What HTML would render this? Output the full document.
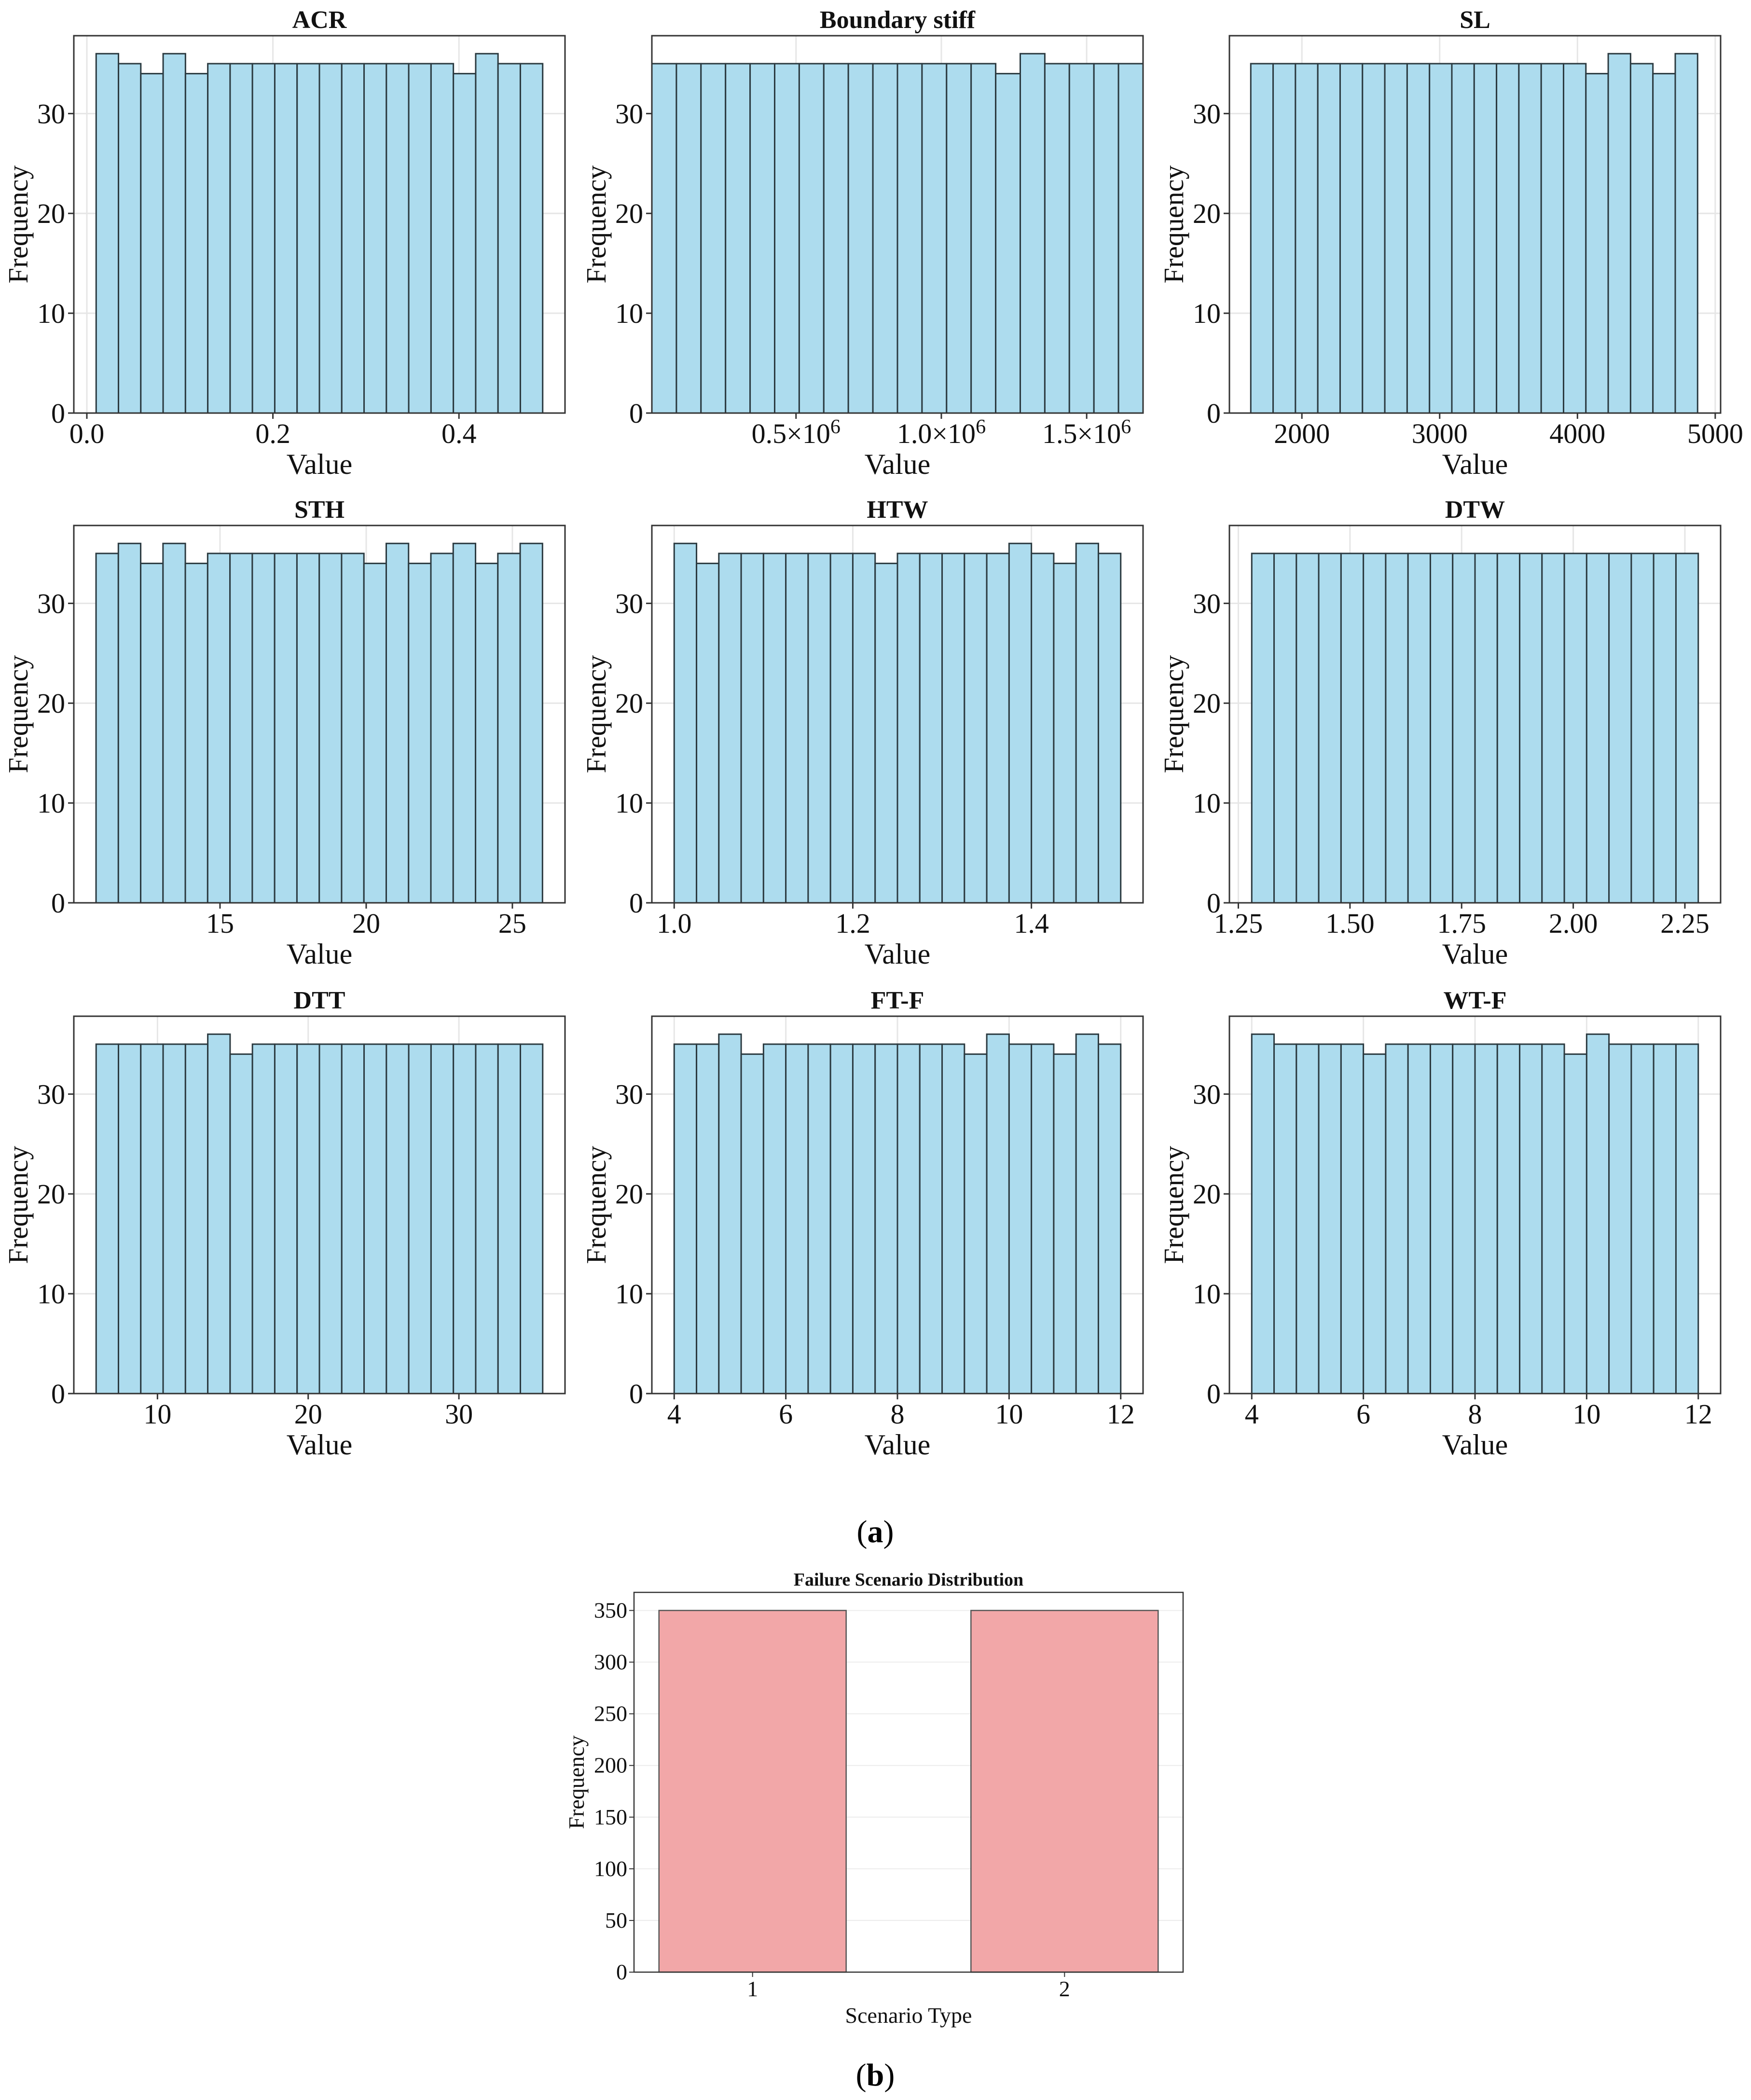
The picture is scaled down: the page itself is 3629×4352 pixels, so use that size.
<!DOCTYPE html>
<html><head><meta charset="utf-8"><style>
html,body{margin:0;padding:0;background:#fff;}
svg{display:block;font-family:"Liberation Serif",serif;}
</style></head>
<body>
<svg id="fig" width="3629" height="4352" viewBox="0 0 3629 4352" xmlns="http://www.w3.org/2000/svg">
<rect x="0" y="0" width="3629" height="4352" fill="#fff"/>
<text x="1814" y="3196" font-size="66" text-anchor="middle">(<tspan font-weight="bold">a</tspan>)</text>
<text x="1814" y="4322" font-size="66" text-anchor="middle">(<tspan font-weight="bold">b</tspan>)</text>
</svg>
<script>
const NS = 'http://www.w3.org/2000/svg';
const svg = document.getElementById('fig');

// ---- data ----
const panelTitles = ['ACR','Boundary stiff','SL','STH','HTW','DTW','DTT','FT-F','WT-F'];
const binRanges = [[0.01,0.49],[0.004e6,1.694e6],[1629,4872],[10.76,26.03],[1.0,1.5],[1.28,2.28],[5.93,35.56],[4,12],[4,12]];
const xDomains = [[-0.014,0.514],[0.004e6,1.694e6],[1474,5039],[10.0,26.8],[0.975,1.525],[1.23,2.33],[4.45,37.04],[3.6,12.4],[3.6,12.4]];
const countsACR = [36,35,34,36,34,35,35,35,35,35,35,35,35,35,35,35,34,36,35,35];
const countsBoundary = [35,35,35,35,35,35,35,35,35,35,35,35,35,35,34,36,35,35,35,35];
const countsSL = [35,35,35,35,35,35,35,35,35,35,35,35,35,35,35,34,36,35,34,36];
const countsSTH = [35,36,34,36,34,35,35,35,35,35,35,35,34,36,34,35,36,34,35,36];
const countsHTW = [36,34,35,35,35,35,35,35,35,34,35,35,35,35,35,36,35,34,36,35];
const countsDTW = [35,35,35,35,35,35,35,35,35,35,35,35,35,35,35,35,35,35,35,35];
const countsDTT = [35,35,35,35,35,36,34,35,35,35,35,35,35,35,35,35,35,35,35,35];
const countsFTF = [35,35,36,34,35,35,35,35,35,35,35,35,35,34,36,35,35,34,36,35];
const countsWTF = [36,35,35,35,35,34,35,35,35,35,35,35,35,35,34,36,35,35,35,35];
const panelCounts = [countsACR,countsBoundary,countsSL,countsSTH,countsHTW,countsDTW,countsDTT,countsFTF,countsWTF];
const xTicks = [[0,0.2,0.4],[0.5e6,1.0e6,1.5e6],[2000,3000,4000,5000],[15,20,25],[1.0,1.2,1.4],[1.25,1.5,1.75,2.0,2.25],[10,20,30],[4,6,8,10,12],[4,6,8,10,12]];
const xTickLabels = [['0.0','0.2','0.4'],['0.5×10^6','1.0×10^6','1.5×10^6'],['2000','3000','4000','5000'],['15','20','25'],['1.0','1.2','1.4'],['1.25','1.50','1.75','2.00','2.25'],['10','20','30'],['4','6','8','10','12'],['4','6','8','10','12']];
const yTicks = [0,10,20,30];
const yMax = 37.8;

const scenarioCats = [1,2];
const scenarioCounts = [350,350];
const scenarioYTicks = [0,50,100,150,200,250,300,350];
const scenarioYMax = 367.5;

// ---- layout ----
const colX = [153,1351,2548];
const rowY = [74,1089,2106];
const PW = 1018, PH = 782;

function mk(tag, attrs, parent){
  const e = document.createElementNS(NS, tag);
  for (const k in attrs) e.setAttribute(k, attrs[k]);
  (parent||svg).appendChild(e);
  return e;
}

panelTitles.forEach((title, i) => {
  const L = colX[i%3], T = rowY[Math.floor(i/3)], B = T+PH, R = L+PW;
  const g = mk('g', {});
  
  
  const [d0,d1] = xDomains[i];
  const xs = v => L + (v-d0)/(d1-d0)*PW;
  const ys = v => B - v/yMax*PH;
  // grid
  yTicks.forEach(t => {
    const l = mk('line', {x1:L, x2:R, y1:ys(t), y2:ys(t), stroke:'#e6e6e6', 'stroke-width':3}, g);
    
    
  });
  xTicks[i].forEach(t => {
    const l = mk('line', {x1:xs(t), x2:xs(t), y1:T, y2:B, stroke:'#e6e6e6', 'stroke-width':3}, g);
    
    
  });
  // bars
  const counts = panelCounts[i];
  const [b0,b1] = binRanges[i];
  const bw = (b1-b0)/counts.length;
  counts.forEach((c, k) => {
    const x0 = xs(b0+k*bw), x1 = xs(b0+(k+1)*bw);
    const r = mk('rect', {x:x0, y:ys(c), width:x1-x0, height:B-ys(c), fill:'#ADDCEE', stroke:'#2b3a40', 'stroke-width':3}, g);
    
    
  });
  // frame
  const fr = mk('rect', {x:L, y:T, width:PW, height:PH, fill:'none', stroke:'#333', 'stroke-width':3}, g);
  
  
  // y ticks
  yTicks.forEach(t => {
    mk('line', {x1:L-12, x2:L, y1:ys(t), y2:ys(t), stroke:'#333', 'stroke-width':3}, g);
    const tx = mk('text', {x:L-18, y:ys(t)+20, 'font-size':58, 'text-anchor':'end', fill:'#111'}, g);
    tx.textContent = t;
    
    
  });
  // x ticks
  xTicks[i].forEach((t, k) => {
    mk('line', {x1:xs(t), x2:xs(t), y1:B, y2:B+12, stroke:'#333', 'stroke-width':3}, g);
    const lab = xTickLabels[i][k];
    const tx = mk('text', {x:xs(t), y:B+62, 'font-size':58, 'text-anchor':'middle', fill:'#111'}, g);
    if (lab.includes('^')) {
      const [base, ex] = lab.split('^');
      tx.appendChild(document.createTextNode(base));
      const sp = mk('tspan', {dy:-20, 'font-size':42}, tx);
      sp.textContent = ex;
    } else tx.textContent = lab;
    
    
  });
  const ti = mk('text', {x:L+PW/2, y:T-16, 'font-size':52, 'font-weight':'bold', 'text-anchor':'middle', fill:'#111'}, g);
  ti.textContent = title;
  
  
  const xl = mk('text', {x:L+PW/2, y:B+126, 'font-size':60, 'text-anchor':'middle', fill:'#111'}, g);
  xl.textContent = 'Value';
  
  
  const yl = mk('text', {x:0, y:0, 'font-size':58, 'text-anchor':'middle', fill:'#111', transform:`translate(${L-96},${T+PH/2}) rotate(-90)`}, g);
  yl.textContent = 'Frequency';
  
  
});

// ---- scenario chart ----
(function(){
  const L=1314, R=2452, T=3300, B=4087;
  const g = mk('g', {});
  
  
  const d0 = 0.62, d1 = 2.38;
  const xs = v => L + (v-d0)/(d1-d0)*(R-L);
  const ys = v => B - v/scenarioYMax*(B-T);
  scenarioYTicks.forEach(t => {
    const l = mk('line', {x1:L, x2:R, y1:ys(t), y2:ys(t), stroke:'#ececec', 'stroke-width':2}, g);
    
    
    mk('line', {x1:L-10, x2:L, y1:ys(t), y2:ys(t), stroke:'#333', 'stroke-width':2}, g);
    const tx = mk('text', {x:L-14, y:ys(t)+15, 'font-size':46, 'text-anchor':'end', fill:'#111'}, g);
    tx.textContent = t;
    
    
  });
  scenarioCats.forEach((c, k) => {
    const r = mk('rect', {x:xs(c-0.3), y:ys(scenarioCounts[k]), width:xs(c+0.3)-xs(c-0.3), height:B-ys(scenarioCounts[k]), fill:'#F2A7A8', stroke:'#555', 'stroke-width':2.5}, g);
    
    
    mk('line', {x1:xs(c), x2:xs(c), y1:B, y2:B+10, stroke:'#333', 'stroke-width':2}, g);
    const tx = mk('text', {x:xs(c), y:B+50, 'font-size':46, 'text-anchor':'middle', fill:'#111'}, g);
    tx.textContent = c;
    
    
  });
  const fr = mk('rect', {x:L, y:T, width:R-L, height:B-T, fill:'none', stroke:'#333', 'stroke-width':2.5}, g);
  
  
  const ti = mk('text', {x:(L+R)/2, y:3286, 'font-size':38, 'font-weight':'bold', 'text-anchor':'middle', fill:'#111'}, g);
  ti.textContent = 'Failure Scenario Distribution';
  
  
  const xl = mk('text', {x:(L+R)/2, y:4192, 'font-size':46, 'text-anchor':'middle', fill:'#111'}, g);
  xl.textContent = 'Scenario Type';
  
  
  const yl = mk('text', {x:0, y:0, 'font-size':46, 'text-anchor':'middle', fill:'#111', transform:`translate(${1210},${(T+B)/2}) rotate(-90)`}, g);
  yl.textContent = 'Frequency';
  
  
})();
</script>
</body></html>
